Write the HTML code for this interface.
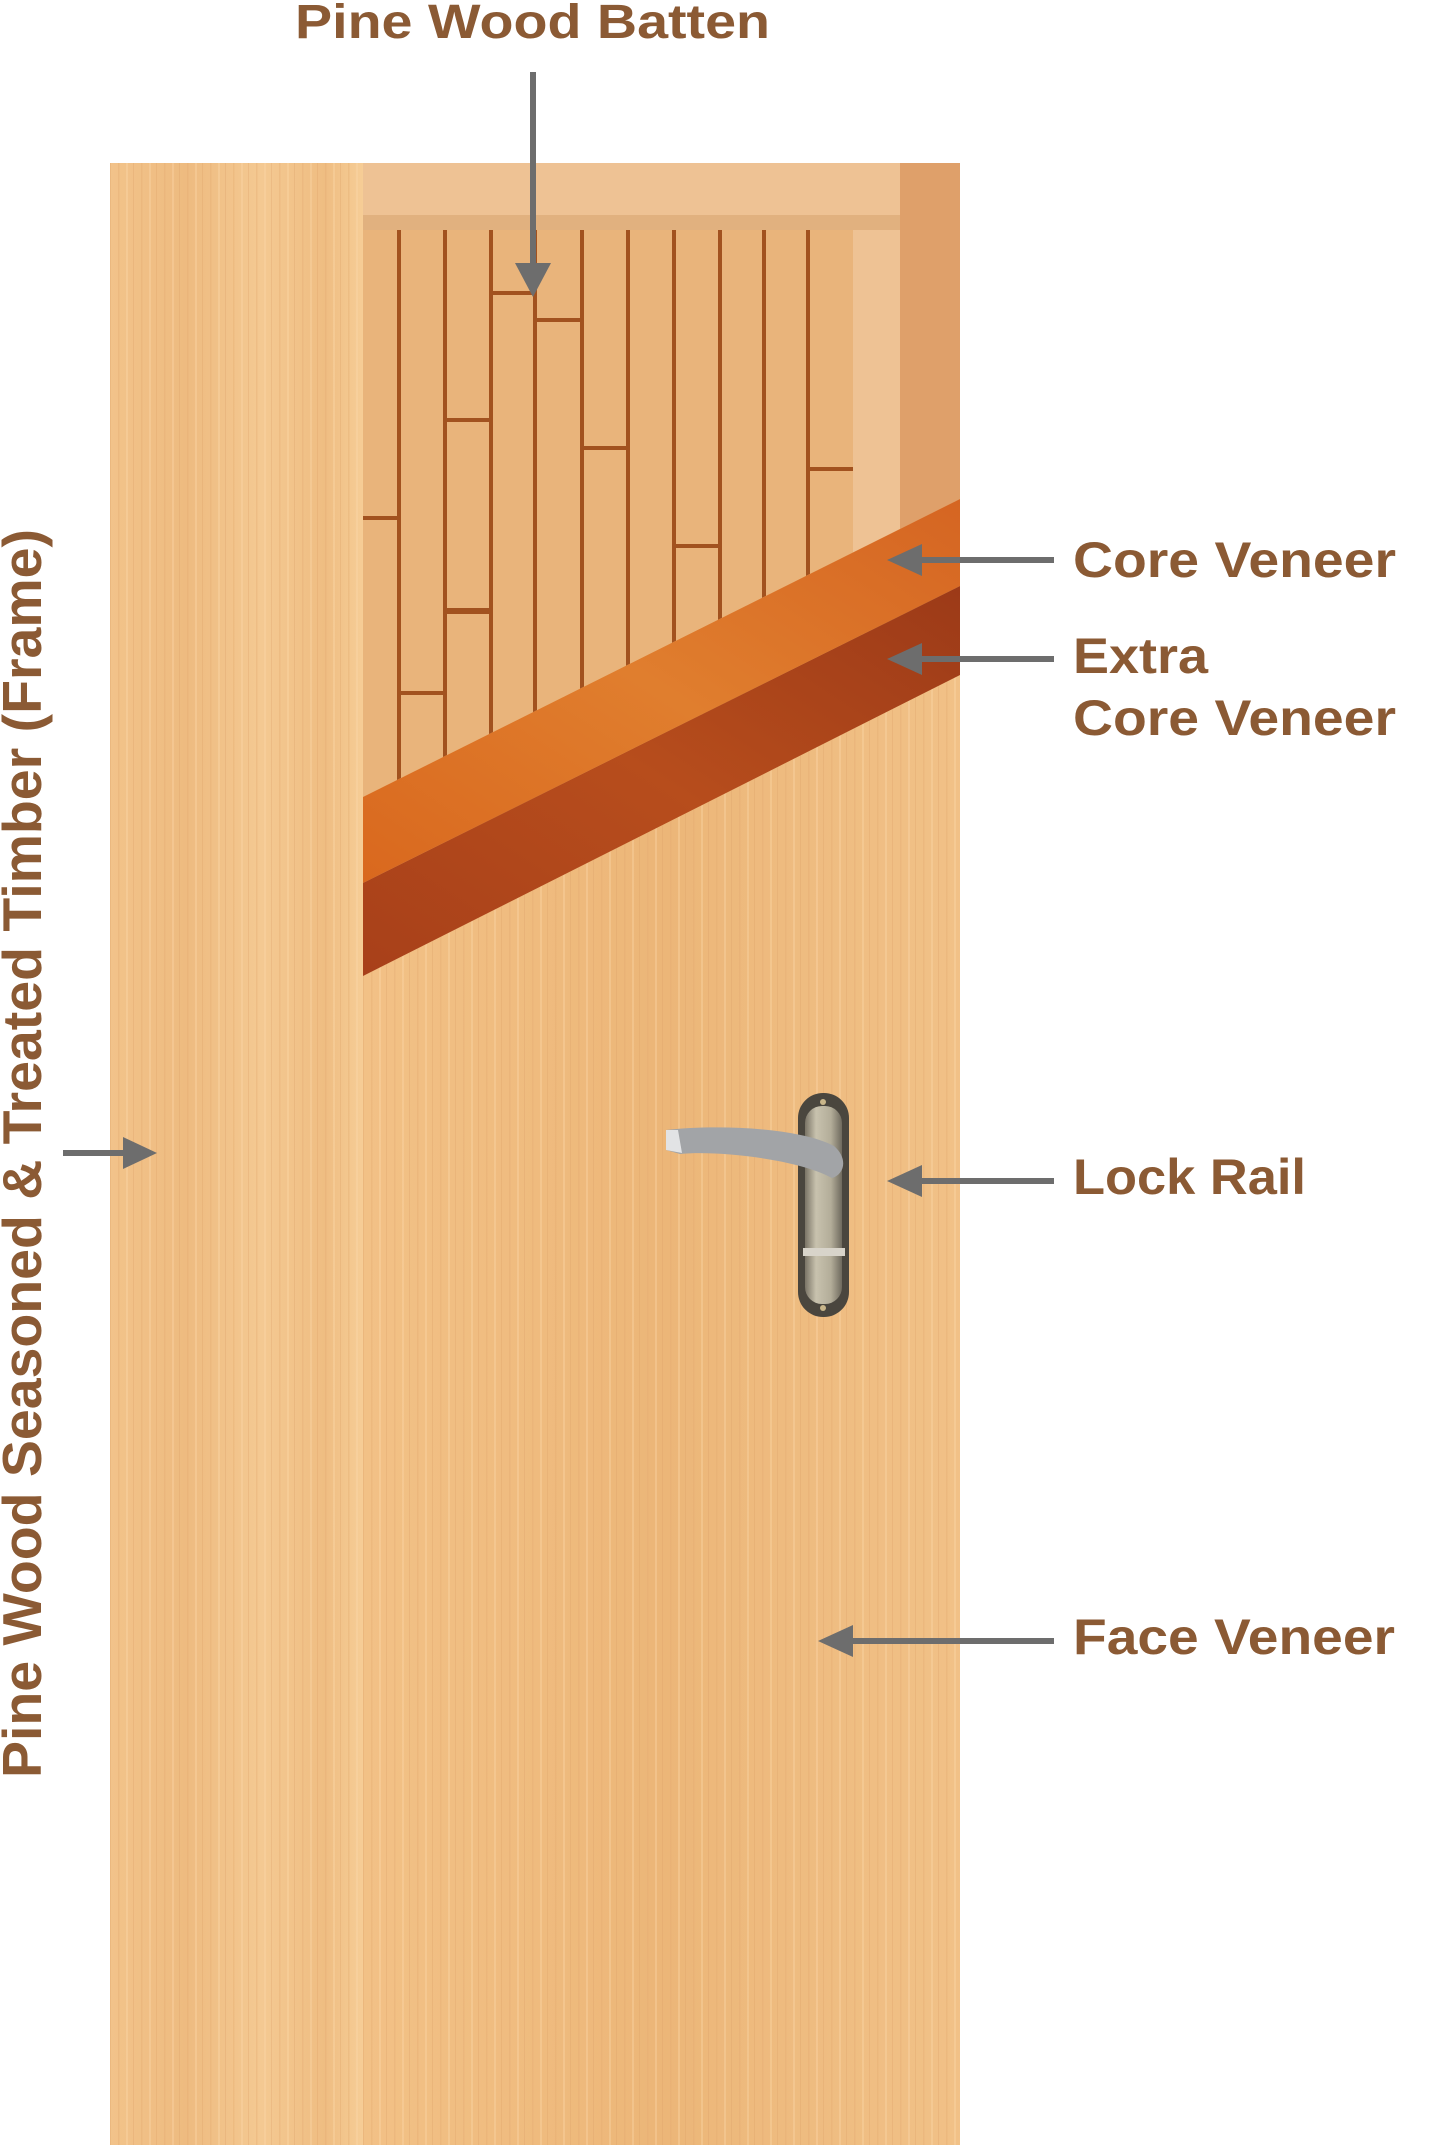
<!DOCTYPE html>
<html><head><meta charset="utf-8"><style>
html,body{margin:0;padding:0;background:#fff;}
svg{display:block}
text{font-family:"Liberation Sans",sans-serif;font-weight:bold;fill:#8b5a34;}
</style></head><body>
<svg width="1438" height="2145" viewBox="0 0 1438 2145" xmlns="http://www.w3.org/2000/svg">
<defs>
<linearGradient id="stile" x1="0" x2="1" y1="0" y2="0">
<stop offset="0" stop-color="#f2c38a"/><stop offset="0.3" stop-color="#eebb80"/><stop offset="0.6" stop-color="#f4c992"/><stop offset="0.85" stop-color="#efbd82"/><stop offset="1" stop-color="#f6cd96"/>
</linearGradient>
<linearGradient id="face" x1="0" x2="1" y1="0" y2="0">
<stop offset="0" stop-color="#f2c186"/><stop offset="0.3" stop-color="#efbb7e"/><stop offset="0.5" stop-color="#ecb678"/><stop offset="0.7" stop-color="#eebb7f"/><stop offset="1" stop-color="#f1c187"/>
</linearGradient>
<linearGradient id="core" x1="0" x2="1" y1="1" y2="0">
<stop offset="0" stop-color="#d9681e"/><stop offset="0.5" stop-color="#e07e2e"/><stop offset="1" stop-color="#d56522"/>
</linearGradient>
<linearGradient id="extra" x1="0" x2="1" y1="1" y2="0">
<stop offset="0" stop-color="#a8401a"/><stop offset="0.5" stop-color="#b74d1c"/><stop offset="1" stop-color="#9c3a18"/>
</linearGradient>
<linearGradient id="plate" x1="0" x2="1">
<stop offset="0" stop-color="#7a7466"/><stop offset="0.3" stop-color="#c8c2ae"/><stop offset="0.7" stop-color="#b3ad99"/><stop offset="1" stop-color="#6f6a5e"/>
</linearGradient>
<pattern id="grain" width="23" height="40" patternUnits="userSpaceOnUse">
<rect x="3" width="1.5" height="40" fill="#e3a96e" opacity="0.35"/>
<rect x="11" width="2" height="40" fill="#fbd9aa" opacity="0.35"/>
<rect x="18" width="1" height="40" fill="#dca066" opacity="0.3"/>
</pattern>
</defs>

<rect x="110" y="163" width="850" height="1982" fill="url(#face)"/>
<rect x="110" y="163" width="253" height="1982" fill="url(#stile)"/>
<rect x="110" y="163" width="850" height="1982" fill="url(#grain)"/>
<rect x="363" y="163" width="537" height="67" fill="#eec294"/>
<rect x="363" y="215" width="537" height="15" fill="#d9a571" opacity="0.6"/>
<rect x="853" y="230" width="47" height="460" fill="#eec294"/>
<rect x="900" y="163" width="60" height="540" fill="#dfa06a"/>
<rect x="363" y="230" width="490" height="580" fill="#e9b47b"/>
<g stroke="#a2521f" stroke-width="4">
<line x1="399" y1="230" x2="399" y2="810"/>
<line x1="445" y1="230" x2="445" y2="810"/>
<line x1="491" y1="230" x2="491" y2="810"/>
<line x1="535" y1="230" x2="535" y2="810"/>
<line x1="582" y1="230" x2="582" y2="810"/>
<line x1="628" y1="230" x2="628" y2="810"/>
<line x1="674" y1="230" x2="674" y2="810"/>
<line x1="720" y1="230" x2="720" y2="810"/>
<line x1="764" y1="230" x2="764" y2="810"/>
<line x1="808" y1="230" x2="808" y2="810"/>
<line x1="363" y1="518" x2="399" y2="518"/>
<line x1="399" y1="693" x2="445" y2="693"/>
<line x1="445" y1="420" x2="491" y2="420"/>
<line x1="445" y1="611" x2="491" y2="611" stroke-width="6"/>
<line x1="491" y1="293" x2="535" y2="293"/>
<line x1="535" y1="320" x2="582" y2="320"/>
<line x1="582" y1="448" x2="628" y2="448"/>
<line x1="674" y1="546" x2="720" y2="546"/>
<line x1="808" y1="469" x2="853" y2="469"/>
</g>
<polygon points="363,797 960,499 960,2145 363,2145" fill="url(#face)"/>
<polygon points="363,797 960,499 960,2145 363,2145" fill="url(#grain)"/>
<polygon points="363,797 960,499 960,586 363,883" fill="url(#core)"/>
<polygon points="363,883 960,586 960,675 363,976" fill="url(#extra)"/>

<rect x="798" y="1093" width="51" height="224" rx="25" fill="#4a463e"/>
<rect x="805" y="1106" width="37" height="198" rx="17" fill="url(#plate)"/>
<circle cx="823" cy="1102" r="3" fill="#c9b68a"/>
<circle cx="823" cy="1308" r="3" fill="#c9b68a"/>
<rect x="803" y="1248" width="42" height="8" fill="#d8d4ca"/>
<path d="M666,1130 C720,1124 800,1128 834,1146 C848,1158 845,1174 832,1178 C800,1160 720,1150 680,1154 L666,1150 Z" fill="#a2a4a7"/>
<path d="M666,1130 L678,1130 L682,1153 L666,1150 Z" fill="#e2e3e5"/>

<g stroke="#6d6d6d" stroke-width="6" fill="none">
<line x1="533" y1="72" x2="533" y2="270"/>
<line x1="1054" y1="560" x2="915" y2="560"/>
<line x1="1054" y1="659" x2="915" y2="659"/>
<line x1="1054" y1="1181" x2="915" y2="1181"/>
<line x1="1054" y1="1641" x2="845" y2="1641"/>
<line x1="63" y1="1153" x2="130" y2="1153"/>
</g>
<g fill="#6d6d6d">
<polygon points="515,263 551,263 533,297"/>
<polygon points="887,560 922,544 922,576"/>
<polygon points="887,659 922,643 922,675"/>
<polygon points="887,1181 922,1165 922,1197"/>
<polygon points="818,1641 853,1625 853,1657"/>
<polygon points="157,1153 123,1137 123,1169"/>
</g>

<text x="295" y="38" font-size="48" textLength="475" lengthAdjust="spacingAndGlyphs">Pine Wood Batten</text>
<text x="1073" y="577" font-size="50" textLength="323" lengthAdjust="spacingAndGlyphs">Core Veneer</text>
<text x="1073" y="673" font-size="50" textLength="135" lengthAdjust="spacingAndGlyphs">Extra</text>
<text x="1073" y="735" font-size="50" textLength="323" lengthAdjust="spacingAndGlyphs">Core Veneer</text>
<text x="1073" y="1194" font-size="50" textLength="233" lengthAdjust="spacingAndGlyphs">Lock Rail</text>
<text x="1073" y="1654" font-size="50" textLength="322" lengthAdjust="spacingAndGlyphs">Face Veneer</text>
<text transform="translate(41,1778) rotate(-90)" x="0" y="0" font-size="55" textLength="1249" lengthAdjust="spacingAndGlyphs">Pine Wood Seasoned &amp; Treated Timber (Frame)</text>
</svg>
</body></html>
